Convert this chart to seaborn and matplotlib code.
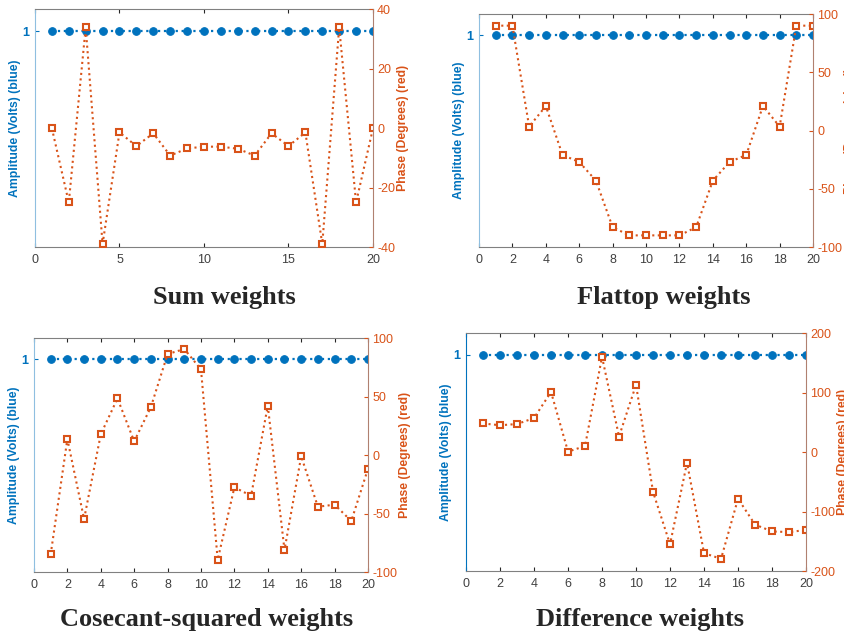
import matplotlib

matplotlib.use("Agg")

import pandas as pd
import seaborn as sns
import matplotlib.pyplot as plt

BLUE = "#0072BD"
ORANGE = "#D95319"
GRAY = "#404040"

element = [1, 2, 3, 4, 5, 6, 7, 8, 9, 10, 11, 12, 13, 14, 15, 16, 17, 18, 19, 20]
amplitude = [1, 1, 1, 1, 1, 1, 1, 1, 1, 1, 1, 1, 1, 1, 1, 1, 1, 1, 1, 1]

sum_phase = [0, -25, 34, -39, -1.4, -6, -1.7, -9.2, -6.8, -6.2,
             -6.2, -6.9, -9.2, -1.7, -6, -1.4, -39, 34, -25, 0]
flattop_phase = [90, 90, 3.4, 21, -21, -27, -43, -83, -90, -90,
                 -90, -90, -83, -43, -27, -21, 21, 3.4, 90, 90]
cosecant_phase = [-85, 13.7, -54.7, 17.7, 48.4, 11.7, 41, 86.3, 90.6, 73.2,
                  -89.5, -27.6, -34.8, 42.2, -81.2, -1.1, -44.2, -42.4, -56.4, -11.7]
difference_phase = [48, 45, 47, 57, 101, 0.6, 10, 160, 26, 113,
                    -67, -155, -18, -170, -179.5, -78.5, -122, -133.5, -134.6, -131]

titles = ["Sum weights", "Flattop weights", "Cosecant-squared weights", "Difference weights"]
phases = [sum_phase, flattop_phase, cosecant_phase, difference_phase]
phase_limits = [(-40, 40), (-100, 100), (-100, 100), (-200, 200)]
phase_ticks = [[-40, -20, 0, 20, 40], [-100, -50, 0, 50, 100],
               [-100, -50, 0, 50, 100], [-200, -100, 0, 100, 200]]
x_ticks = [[0, 5, 10, 15, 20], [0, 2, 4, 6, 8, 10, 12, 14, 16, 18, 20],
           [0, 2, 4, 6, 8, 10, 12, 14, 16, 18, 20], [0, 2, 4, 6, 8, 10, 12, 14, 16, 18, 20]]

# axes boxes in figure fraction: left, bottom, width, height
boxes = [
    [0.0414, 0.6122, 0.4000, 0.3729],
    [0.5669, 0.6122, 0.3953, 0.3658],
    [0.0402, 0.1020, 0.3953, 0.3673],
    [0.5515, 0.1036, 0.4024, 0.3736],
]
title_pos = [(0.265, 0.533), (0.786, 0.533), (0.245, 0.027), (0.757, 0.027)]

sns.set_style("white")
plt.rcParams["font.family"] = ["Liberation Sans", "DejaVu Sans"]
plt.rcParams["axes.unicode_minus"] = False

fig = plt.figure(figsize=(8.45, 6.37), dpi=100)

for i in range(4):
    ax = fig.add_axes(boxes[i])
    df = pd.DataFrame({"element": element, "amplitude": amplitude, "phase": phases[i]})

    sns.lineplot(data=df, x="element", y="amplitude", ax=ax, color=BLUE,
                 linestyle=":", linewidth=1.6, marker="o", markersize=5.5,
                 markeredgecolor=BLUE, markerfacecolor=BLUE)
    ax.set_xlim(0, 20)
    ax.set_ylim(0, 1.1)
    ax.set_yticks([1])
    ax.set_xticks(x_ticks[i])
    ax.set_xlabel("")
    ax.set_ylabel("Amplitude (Volts) (blue)", color=BLUE, fontsize=8.8,
                  fontweight="bold", labelpad=1)
    ax.tick_params(axis="x", direction="in", length=3, top=True, bottom=True,
                   labelsize=9, labelcolor=GRAY, color="#262626", pad=5)
    ax.tick_params(axis="y", direction="in", length=3, colors=BLUE, labelsize=9, pad=4)
    for lbl in ax.get_yticklabels():
        lbl.set_fontweight("bold")
    for side in ["top", "bottom"]:
        ax.spines[side].set_color("#808080")
        ax.spines[side].set_linewidth(0.8)
    ax.spines["left"].set_color("#8fbfe0" if i < 3 else BLUE)
    ax.spines["right"].set_visible(False)

    ax2 = ax.twinx()
    sns.lineplot(data=df, x="element", y="phase", ax=ax2, color=ORANGE,
                 linestyle=":", linewidth=1.5, marker="s", markersize=5,
                 markeredgecolor=ORANGE, markerfacecolor="white", markeredgewidth=1.5)
    ax2.set_ylim(*phase_limits[i])
    ax2.set_yticks(phase_ticks[i])
    ax2.set_xlabel("")
    ax2.set_ylabel("Phase (Degrees) (red)", color=ORANGE, fontsize=8.8,
                   fontweight="bold", labelpad=1)
    ax2.tick_params(axis="y", direction="in", length=3, colors=ORANGE, labelsize=9, pad=3)
    for side in ["top", "bottom", "left"]:
        ax2.spines[side].set_visible(False)
    ax2.spines["right"].set_color("#b08070")

    fig.text(title_pos[i][0], title_pos[i][1], titles[i], ha="center", va="center",
             fontsize=19, fontweight="bold", family=["Liberation Serif", "DejaVu Serif"])

fig.savefig("out.png", dpi=100)
